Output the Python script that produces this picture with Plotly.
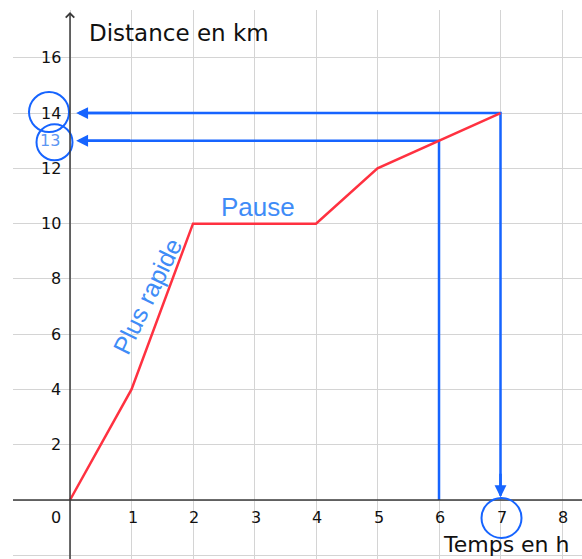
import plotly.graph_objects as go

# ---- data ----
time_h = [0, 1, 2, 4, 5, 6, 7]
distance_km = [0, 4, 10, 10, 12, 13, 14]

x_ticks = [0, 1, 2, 3, 4, 5, 6, 7, 8]
x_tick_labels = ["0", "1", "2", "3", "4", "5", "6", "7", "8"]
y_ticks = [2, 4, 6, 8, 10, 12, 14, 16]
y_tick_labels = ["2", "4", "6", "8", "10", "12", "14", "16"]

read_time = 6      # vertical reading line
read_dist = 13     # value read
end_time = 7
end_dist = 14

RED = "#ff3140"
BLUE = "#1664ff"
LBLUE = "#3f8cf7"
AX = "#3a3a3a"
FONT = "DejaVu Sans"

fig = go.Figure()

# blue reading lines (under the red curve)
fig.add_trace(go.Scatter(x=[read_time, read_time, 0.15], y=[0, read_dist, read_dist],
                         mode="lines", line=dict(color=BLUE, width=2.5),
                         hoverinfo="skip", showlegend=False))
fig.add_trace(go.Scatter(x=[0.15, end_time, end_time], y=[end_dist, end_dist, 0.15],
                         mode="lines", line=dict(color=BLUE, width=2.5),
                         hoverinfo="skip", showlegend=False))

# red distance curve
fig.add_trace(go.Scatter(x=time_h, y=distance_km, mode="lines",
                         line=dict(color=RED, width=2.5),
                         hoverinfo="skip", showlegend=False))

ann = []
shapes = []

# axis lines
shapes.append(dict(type="line", xref="paper", x0=0, x1=1, yref="y", y0=0, y1=0,
                   line=dict(color=AX, width=1.5), layer="above"))
ann.append(dict(x=0, y=17.66, ax=0, ay=-2.3, xref="x", yref="y", axref="x", ayref="y",
                text="", showarrow=True, arrowhead=4, arrowsize=1.1, arrowwidth=1.5,
                arrowcolor=AX, standoff=0, startstandoff=0))

# arrowheads
for (tx, ty, sx, sy) in [(0.1, read_dist, 1.0, read_dist),
                         (0.1, end_dist, 1.0, end_dist),
                         (end_time, 0.1, end_time, 1.0)]:
    ann.append(dict(x=tx, y=ty, ax=sx, ay=sy, xref="x", yref="y", axref="x", ayref="y",
                    text="", showarrow=True, arrowhead=2, arrowsize=0.95, arrowwidth=2.5,
                    arrowcolor=BLUE, standoff=0, startstandoff=0))

# tick labels
for v, lab in zip(y_ticks, y_tick_labels):
    ann.append(dict(x=0, y=v, xref="x", yref="y", text=lab, showarrow=False,
                    xanchor="right", yanchor="middle", xshift=-7,
                    font=dict(family=FONT, size=16, color="#111")))
for v, lab in zip(x_ticks, x_tick_labels):
    ann.append(dict(x=v, y=0, xref="x", yref="y", text=lab, showarrow=False,
                    xanchor="center", yanchor="middle",
                    xshift=(-14 if v == 0 else 1), yshift=-17,
                    font=dict(family=FONT, size=16, color="#111")))

# blue read value on the y axis
ann.append(dict(x=0, y=read_dist, xref="x", yref="y", text=str(read_dist), showarrow=False,
                xanchor="center", yanchor="middle", xshift=-20,
                font=dict(family=FONT, size=16, color="#5b96f2")))

# circles
def circ(xa, ya, dx, dy, r):
    return dict(type="circle", xref="x", yref="y", xsizemode="pixel", ysizemode="pixel",
                xanchor=xa, yanchor=ya, x0=dx - r, x1=dx + r, y0=dy - r, y1=dy + r,
                line=dict(color=BLUE, width=2), layer="above")

shapes.append(circ(0, end_dist, -21, 1, 20))
shapes.append(circ(0, read_dist, -15.5, -1.5, 18))
shapes.append(circ(end_time, 0, 1, -18, 20))

# axis titles
ann.append(dict(x=0.27, y=16.9, xref="x", yref="y", text="Distance en km", showarrow=False,
                xanchor="left", yanchor="middle",
                font=dict(family=FONT, size=23, color="#111")))
ann.append(dict(x=6.03, y=-1.6, xref="x", yref="y", text="Temps en h", showarrow=False,
                xanchor="left", yanchor="middle",
                font=dict(family=FONT, size=22, color="#111")))

# blue comments
ann.append(dict(x=3.06, y=10.6, xref="x", yref="y", text="Pause", showarrow=False,
                xanchor="center", yanchor="middle",
                font=dict(family="Liberation Sans", size=26, color=LBLUE)))
ann.append(dict(x=1.26, y=7.37, xref="x", yref="y", text="Plus rapide", showarrow=False,
                xanchor="center", yanchor="middle", textangle=-64,
                font=dict(family="Liberation Sans", size=25, color=LBLUE)))

fig.update_layout(
    width=582, height=559,
    margin=dict(l=13, r=0, t=10, b=0),
    paper_bgcolor="white", plot_bgcolor="white",
    xaxis=dict(range=[-0.927, 8.325], dtick=1, tick0=0, showgrid=True,
               gridcolor="#d4d4d4", gridwidth=1, zeroline=False,
               showticklabels=False, ticks="", fixedrange=True),
    yaxis=dict(range=[-2.135, 17.73], dtick=2, tick0=0, showgrid=True,
               gridcolor="#d4d4d4", gridwidth=1, zeroline=False,
               showticklabels=False, ticks="", fixedrange=True),
    shapes=shapes, annotations=ann, showlegend=False,
)

fig.write_html("out.html", config={"displayModeBar": False},
               post_script="document.body.style.margin='0';document.body.style.overflow='hidden';")
